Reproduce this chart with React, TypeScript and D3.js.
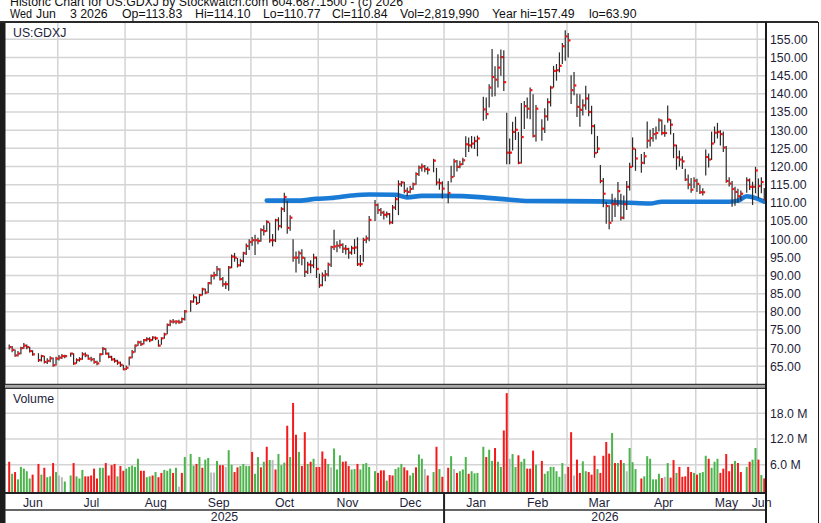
import React from "react";
import * as d3 from "d3";

// calendar: one slot per weekday, holidays stay empty
const firstDay = "2025-06-06";
const lastDay = "2026-06-03";
const holidays = [
  "2025-06-19", "2025-07-04", "2025-09-01", "2025-11-27", "2025-12-25",
  "2026-01-01", "2026-01-19", "2026-02-16", "2026-04-03", "2026-05-25",
];

// daily closes, one per trading day (Jun 2025 .. Jun 2026)
const closes = [
  // Jun
  70.3, 69.5, 68.0, 68.5, 70.0, 70.7, 70.3, 69.2, 68.3, 66.7, 67.8, 66.2, 66.5, 67.2, 65.3, 67.1,
  // Jul
  67.4, 67.8, 67.8, 68.5, 65.8, 66.7, 67.0, 68.3, 68.0, 67.1, 66.9, 66.2, 65.8, 68.3, 69.8, 68.5, 67.6, 66.9, 66.5, 66.0, 65.4, 64.2,
  // Aug
  64.6, 67.4, 68.9, 70.7, 71.6, 71.1, 72.2, 72.5, 72.2, 72.9, 72.7, 70.7, 72.7, 73.8, 76.4, 77.3, 77.3, 77.3, 77.1, 78.0, 80.1,
  // Sep
  82.8, 84.0, 82.4, 84.6, 86.2, 85.3, 87.9, 89.9, 90.1, 91.7, 89.0, 87.6, 87.6, 92.2, 95.2, 94.9, 92.8, 94.0, 96.1, 98.1, 99.2,
  // Oct
  99.7, 99.7, 99.5, 102.5, 102.2, 104.7, 99.7, 99.7, 105.2, 103.6, 108.3, 111.6, 103.1, 105.9, 94.9, 94.9, 96.1, 94.9, 91.0, 93.0, 92.8, 94.9, 91.8,
  // Nov
  87.3, 90.0, 90.3, 93.0, 97.8, 98.0, 98.2, 98.4, 97.4, 97.3, 96.3, 97.5, 97.7, 93.1, 93.1, 99.8, 100.2, 105.3, 109.4,
  // Dec
  108.0, 107.3, 106.7, 106.9, 104.6, 108.7, 111.0, 115.1, 115.6, 113.3, 113.0, 113.8, 115.1, 117.9, 119.7, 120.0, 119.3, 119.1, 121.6, 115.6, 115.4, 113.9,
  // Jan
  112.7, 117.1, 121.4, 119.9, 120.6, 121.7, 126.1, 125.8, 126.3, 127.0, 127.7, 135.7, 134.4, 141.7, 144.6, 143.9, 147.2, 150.1, 143.2, 123.8,
  // Feb
  123.8, 129.5, 130.1, 121.0, 128.1, 136.6, 135.9, 141.0, 128.4, 135.9, 130.4, 133.8, 137.7, 141.7, 146.3, 146.5, 147.7, 153.1, 155.8,
  // Mar
  154.7, 141.0, 142.3, 136.4, 135.6, 136.8, 138.7, 135.0, 131.1, 123.7, 124.9, 116.0, 112.5, 109.1, 104.5, 109.6, 109.7, 113.2, 105.9, 109.6, 114.4, 119.9,
  // Apr
  124.9, 122.2, 121.0, 122.8, 127.1, 127.8, 128.9, 129.2, 132.7, 129.2, 129.2, 132.9, 131.5, 125.8, 122.5, 121.9, 121.4, 116.4, 115.0, 113.6, 116.1,
  // May
  115.2, 112.9, 112.9, 122.6, 121.9, 126.3, 129.3, 129.5, 128.9, 125.2, 116.0, 115.3, 113.8, 113.0, 111.8, 112.5, 116.2, 114.4, 114.4, 118.9,
  // Jun
  114.6, 115.7, 110.84,
];

const highs = [
  71.0, 70.6, 69.6, 69.2, 70.4, 71.4, 71.0, 70.4, 69.4, 68.6, 68.2, 67.9, 67.2, 67.8, 67.4, 67.6,
  68.1, 68.4, 68.2, 68.7, 68.6, 67.2, 67.5, 68.9, 68.8, 68.2, 67.6, 67.3, 66.5, 68.6, 70.3, 70.0, 68.8, 67.9, 67.3, 66.8, 66.3, 65.4,
  65.2, 67.6, 69.5, 71.0, 72.0, 72.0, 72.5, 73.0, 73.0, 73.3, 73.2, 72.3, 73.0, 74.2, 76.8, 77.8, 78.0, 77.7, 77.8, 78.4, 80.5,
  83.2, 84.8, 84.2, 84.9, 86.6, 86.4, 88.2, 90.3, 91.0, 92.6, 92.0, 89.6, 88.4, 92.6, 95.8, 96.2, 94.8, 94.6, 96.5, 98.8, 100.0,
  100.6, 101.2, 100.4, 103.0, 103.8, 105.2, 104.6, 101.4, 105.6, 106.0, 108.8, 112.8, 110.5, 106.6, 100.0, 96.6, 96.8, 97.2, 95.0, 93.8, 94.2, 96.0, 95.2,
  90.5, 90.8, 91.5, 93.6, 98.2, 102.6, 99.4, 99.8, 98.9, 98.4, 97.6, 98.2, 100.0, 100.5, 95.6, 100.4, 101.0, 106.4, 110.8,
  109.8, 108.6, 107.8, 107.6, 107.2, 109.4, 111.6, 116.2, 116.0, 115.8, 114.2, 114.6, 115.6, 118.4, 120.3, 120.8, 120.4, 119.9, 122.1, 119.6, 116.7, 115.9,
  116.0, 120.2, 122.1, 121.8, 121.6, 122.4, 128.3, 128.0, 128.4, 128.2, 128.5, 139.2, 139.0, 142.6, 152.3, 147.6, 150.9, 152.2, 152.0, 134.8,
  127.7, 132.3, 133.7, 129.5, 137.5, 138.0, 139.0, 141.7, 139.9, 136.9, 133.0, 136.0, 138.8, 142.2, 147.7, 148.2, 151.4, 154.0, 157.5,
  156.7, 145.1, 146.0, 140.0, 139.9, 138.5, 142.2, 140.0, 136.7, 131.6, 128.4, 120.4, 116.8, 110.2, 109.3, 112.5, 111.4, 115.7, 112.5, 112.0, 116.0, 121.0,
  128.0, 124.9, 123.4, 124.0, 132.4, 130.1, 130.6, 131.0, 133.3, 132.9, 131.5, 136.8, 133.0, 129.2, 126.0, 124.4, 122.8, 119.4, 117.8, 116.8, 117.0,
  116.6, 115.0, 114.0, 124.7, 123.6, 129.6, 131.0, 132.0, 130.0, 129.6, 125.6, 117.0, 116.0, 114.4, 113.9, 113.4, 117.0, 116.7, 115.8, 119.9,
  116.7, 117.0, 114.1,
];

const lows = [
  69.6, 68.9, 67.6, 67.7, 68.3, 69.8, 69.7, 68.8, 67.9, 66.2, 66.3, 65.8, 65.6, 66.1, 64.9, 65.2,
  66.6, 67.0, 67.2, 67.6, 65.4, 65.7, 66.3, 66.8, 67.5, 66.8, 66.3, 65.7, 65.3, 66.2, 68.1, 68.2, 67.2, 66.5, 66.0, 65.4, 64.8, 63.9,
  64.0, 65.2, 67.2, 68.8, 70.6, 70.6, 71.0, 71.8, 71.6, 72.0, 72.2, 70.4, 70.9, 72.6, 73.8, 76.0, 76.8, 76.6, 76.7, 76.9, 77.6,
  80.0, 82.5, 81.9, 82.4, 84.5, 84.8, 85.2, 87.5, 88.9, 89.8, 88.6, 86.9, 86.3, 85.8, 92.0, 93.8, 92.2, 92.5, 93.6, 95.6, 97.0,
  98.2, 95.6, 98.6, 99.3, 101.0, 102.0, 99.0, 98.0, 99.2, 102.4, 103.0, 107.5, 101.5, 102.3, 93.8, 90.8, 93.2, 92.8, 89.6, 90.4, 90.6, 92.0, 89.3,
  86.6, 87.0, 88.4, 89.7, 92.3, 97.0, 96.4, 97.4, 96.2, 95.8, 94.6, 95.7, 95.9, 92.6, 92.4, 93.8, 98.9, 99.4, 105.0,
  106.9, 106.4, 105.4, 105.9, 104.0, 104.2, 108.0, 106.6, 114.4, 112.6, 111.8, 112.6, 113.6, 115.0, 117.4, 118.6, 118.4, 117.8, 118.4, 114.8, 113.6, 111.2,
  109.9, 115.6, 117.1, 118.6, 119.5, 120.4, 122.6, 124.0, 125.0, 124.8, 122.8, 132.6, 133.0, 136.2, 139.2, 139.3, 141.7, 145.0, 140.8, 120.6,
  120.6, 124.4, 127.3, 120.6, 120.8, 130.3, 133.2, 133.0, 128.0, 126.9, 127.1, 129.2, 132.6, 136.5, 141.7, 143.6, 145.9, 148.2, 149.1,
  150.0, 137.2, 139.6, 133.6, 130.9, 134.0, 135.6, 133.8, 128.9, 122.4, 123.7, 115.4, 108.8, 104.2, 102.7, 104.8, 106.1, 109.0, 105.1, 105.5, 108.0, 113.4,
  119.8, 118.8, 118.3, 120.6, 125.0, 125.5, 126.8, 127.4, 129.6, 128.6, 128.2, 132.0, 128.8, 122.3, 119.1, 120.0, 119.3, 116.0, 113.7, 112.8, 114.0,
  113.0, 112.4, 112.0, 117.5, 119.7, 121.8, 126.4, 127.7, 125.8, 124.0, 115.5, 114.5, 108.9, 109.2, 110.0, 110.6, 112.8, 113.5, 109.4, 112.6,
  111.2, 112.6, 110.77,
];

// volume in millions
const volumes = [
  6.7, 3.9, 4.3, 2.6, 5.5, 5.1, 4.5, 2.8, 3.7, 6.2, 3.7, 5.3, 3.1, 3.3, 6.4, 4.3,
  3.5, 3.1, 2.1, 3.5, 6.4, 3.3, 2.8, 4.8, 3.3, 3.3, 3.5, 5.1, 2.8, 5.3, 5.3, 6.4, 3.5, 5.9, 6.2, 3.3, 5.7, 4.6,
  5.1, 5.5, 5.8, 5.5, 7.4, 4.6, 4.6, 3.1, 3.3, 3.5, 4.3, 3.1, 4.1, 4.8, 4.6, 5.1, 4.1, 5.3, 0.9, 4.1, 7.8,
  8.5, 5.8, 6.2, 7.8, 5.3, 7.2, 7.6, 4.2, 4.2, 6.9, 5.9, 5.9, 5.5, 9.4, 6.0, 4.3, 5.4, 5.7, 6.2, 5.7, 5.7,
  9.0, 3.9, 7.8, 5.4, 6.7, 10.2, 7.1, 7.1, 4.9, 8.5, 5.9, 6.5, 15.1, 7.8, 20.4, 13.0, 9.0, 5.7, 13.6, 6.2, 6.7, 7.4, 5.5,
  5.5, 9.1, 7.4, 6.2, 5.4, 9.8, 4.9, 8.2, 6.7, 6.8, 5.7, 4.9, 5.0, 6.2, 4.9, 6.2, 6.4, 5.5, 4.5,
  4.1, 4.7, 4.7, 2.3, 3.6, 3.5, 5.0, 5.4, 6.2, 5.4, 4.7, 3.5, 4.1, 5.4, 8.4, 7.4, 5.0, 3.5, 4.3, 10.2, 5.0, 3.2,
  5.3, 8.0, 5.0, 4.1, 4.5, 4.9, 7.8, 3.9, 4.5, 4.0, 4.1, 10.2, 7.8, 9.5, 6.9, 9.9, 6.7, 5.5, 14.0, 22.7,
  7.4, 8.5, 5.5, 8.2, 6.7, 7.4, 5.1, 5.1, 9.3, 6.0, 6.9, 3.9, 4.5, 5.5, 5.5, 4.5, 3.2, 6.4, 3.9,
  5.5, 13.6, 3.5, 7.2, 4.1, 6.8, 4.5, 4.3, 3.7, 8.1, 5.0, 4.1, 8.1, 11.3, 8.6, 13.4, 6.4, 6.4, 7.1, 6.4, 4.5, 9.9,
  6.6, 5.0, 2.8, 3.3, 8.0, 7.4, 2.6, 2.6, 3.9, 2.9, 3.2, 6.4, 3.0, 7.1, 4.1, 5.5, 3.2, 3.3, 5.5, 4.3, 4.1,
  3.7, 4.1, 4.3, 8.1, 7.4, 5.3, 6.7, 7.4, 4.1, 5.1, 8.5, 4.5, 6.2, 6.9, 6.4, 4.3, 5.5, 6.7, 7.2, 9.9,
  7.2, 3.6, 2.82,
];

// g = up, r = down, n = unchanged
const volColors = [
  "rgrgggggrrgrggrg",
  "nnggrgggrrrrrggrrrrgrr",
  "gggggrrggrgrrgggrgnrg",
  "ggrgrggnngrrnggrrgggg",
  "rggrgrgnrgggrgrrgrrgrgr",
  "rrrgngggrrrggrggggg",
  "rrrgrrgggrrggrggnrgrgr",
  "rgnrgggrggggrggrggrr",
  "nggrggrrrgrgggggggn",
  "rrnrrggrrrgrrrrgrgrgng",
  "ggrggggggrngrrgrrrrrg",
  "rgggrgggrrrrrgrrgrgg",
  "rgr",
].join("");

// blue average line
const maDates = [
  "2025-10-08", "2025-10-23", "2025-10-31", "2025-11-07", "2025-11-18", "2025-11-26",
  "2025-12-09", "2025-12-15", "2025-12-22", "2025-12-31", "2026-01-20", "2026-01-29",
  "2026-02-11", "2026-03-16", "2026-03-31", "2026-04-09", "2026-04-15", "2026-05-18",
  "2026-05-21", "2026-05-26", "2026-05-29", "2026-06-03",
];
const maValues = [
  110.6, 110.6, 111.1, 111.3, 112.0, 112.3, 112.2, 111.5, 111.9, 111.9, 111.5, 111.0,
  110.5, 110.4, 110.0, 109.8, 110.3, 110.3, 110.6, 111.8, 111.3, 110.3,
];

const priceTicks = [65, 70, 75, 80, 85, 90, 95, 100, 105, 110, 115, 120, 125, 130, 135, 140, 145, 150, 155];
const volTicks = [6, 12, 18];

const FONT = "'Liberation Sans', Arial, Helvetica, sans-serif";
const TXT = "#1e1e3a";

export default function App() {
  const parse = d3.utcParse("%Y-%m-%d");
  const fmt = d3.utcFormat("%Y-%m-%d");
  const monthFmt = d3.utcFormat("%b");

  const days = d3
    .utcDay.range(parse(firstDay) as Date, d3.utcDay.offset(parse(lastDay) as Date, 1))
    .filter((d) => d.getUTCDay() !== 0 && d.getUTCDay() !== 6);
  const slotOf = new Map(days.map((d, i) => [fmt(d), i]));
  const hol = new Set(holidays);
  const tradeSlots = days.map((d, i) => i).filter((i) => !hol.has(fmt(days[i])));

  const x = d3.scaleLinear().domain([0, days.length]).range([8, 766]);
  const y = d3.scaleLinear().domain([65, 155]).range([366.3, 39.3]);
  const yv = d3.scaleLinear().domain([0, 18]).range([490.5, 413.3]);

  const monthStarts = days
    .map((d, i) => i)
    .filter((i) => i === 0 || days[i].getUTCMonth() !== days[i - 1].getUTCMonth());
  const yearStart = days.findIndex((d) => d.getUTCFullYear() === 2026);

  const bars = closes.map((c, k) => ({
    s: tradeSlots[k],
    c,
    h: highs[k],
    l: lows[k],
    v: volumes[k],
    col: volColors[k],
  }));

  const maLine = d3
    .line<number>()
    .x((d, i) => x(slotOf.get(maDates[i]) as number) + 1.2)
    .y((d) => y(d))
    .curve(d3.curveMonotoneX);

  const volFill = (c: string) => (c === "g" ? "#4cb44c" : c === "r" ? "#f21a1a" : "#b9b9b9");

  return (
    <svg
      width={821}
      height={523}
      style={{ position: "absolute", left: 0, top: 0, background: "#fff" }}
      fontFamily={FONT}
    >
      <rect x={0} y={0} width={821} height={523} fill="#fff" />

      {/* header */}
      <text x={10} y={5.5} fontSize={12.3} fill="#111">
        Historic Chart for US:GDXJ by Stockwatch.com 604.687.1500 - (c) 2026
      </text>
      <text y={18.3} fontSize={12.3} fill="#111">
        <tspan x={10} textLength={22} lengthAdjust="spacingAndGlyphs">Wed</tspan>
        <tspan x={36}>Jun</tspan>
        <tspan x={70}>3 2026</tspan>
        <tspan x={122}>Op=113.83</tspan>
        <tspan x={195}>Hi=114.10</tspan>
        <tspan x={263}>Lo=110.77</tspan>
        <tspan x={332}>Cl=110.84</tspan>
        <tspan x={400}>Vol=2,819,990</tspan>
        <tspan x={492}>Year hi=157.49</tspan>
        <tspan x={589}>lo=63.90</tspan>
      </text>

      {/* grid */}
      {priceTicks.map((t) => (
        <line key={"pg" + t} x1={5} x2={766} y1={y(t)} y2={y(t)} stroke="#d4d4d4" strokeWidth={1.5} />
      ))}
      {volTicks.map((t) => (
        <line key={"vg" + t} x1={5} x2={766} y1={yv(t)} y2={yv(t)} stroke="#d4d4d4" strokeWidth={1.5} />
      ))}
      {monthStarts.slice(1).map((s) => (
        <g key={"mg" + s}>
          <line x1={x(s)} x2={x(s)} y1={23} y2={384} stroke="#d4d4d4" strokeWidth={1.5} />
          <line x1={x(s)} x2={x(s)} y1={389} y2={493} stroke="#d4d4d4" strokeWidth={1.5} />
        </g>
      ))}

      {/* volume */}
      {bars.map((b) => (
        <rect
          key={"v" + b.s}
          x={x(b.s) + 0.2}
          y={yv(b.v)}
          width={2}
          height={492 - yv(b.v)}
          fill={volFill(b.col)}
        />
      ))}

      {/* average line */}
      <path
        d={maLine(maValues) as string}
        fill="none"
        stroke="#1a7bd6"
        strokeWidth={4.6}
        strokeLinecap="round"
        strokeLinejoin="round"
      />

      {/* price bars */}
      {bars.map((b) => (
        <g key={"p" + b.s}>
          <line
            x1={x(b.s) + 1.2}
            x2={x(b.s) + 1.2}
            y1={y(Math.max(b.h, b.c))}
            y2={y(Math.min(b.l, b.c))}
            stroke="#2a2a2a"
            strokeWidth={1.2}
          />
          <rect x={x(b.s) + 1.3} y={y(b.c) - 1.1} width={2.2} height={2.2} fill="#ff1010" />
        </g>
      ))}

      {/* frame */}
      <rect x={0} y={22} width={5.5} height={501} fill="#1c1c1c" />
      <line x1={0} x2={818} y1={22} y2={22} stroke="#2a2a2a" strokeWidth={2} />
      <rect x={5} y={384} width={761} height={4.5} fill="#a8a8a8" />
      <line x1={5} x2={766} y1={384.3} y2={384.3} stroke="#333" strokeWidth={1.2} />
      <line x1={5} x2={766} y1={388.3} y2={388.3} stroke="#333" strokeWidth={1.2} />
      <line x1={5} x2={766} y1={493} y2={493} stroke="#222" strokeWidth={2} />
      <line x1={5} x2={766} y1={510} y2={510} stroke="#333" strokeWidth={1.5} />
      <line x1={x(yearStart)} x2={x(yearStart)} y1={493} y2={523} stroke="#222" strokeWidth={2} />
      <line x1={766} x2={766} y1={22} y2={523} stroke="#1a1a1a" strokeWidth={2} />
      <line x1={818.5} x2={818.5} y1={22} y2={523} stroke="#1a1a1a" strokeWidth={1} />

      {/* labels */}
      <text x={13} y={37} fontSize={12.3} fill={TXT}>US:GDXJ</text>
      <text x={13} y={403} fontSize={12.3} fill={TXT}>Volume</text>

      {priceTicks.map((t) => (
        <text key={"pt" + t} x={770} y={y(t) + 4.4} fontSize={12.3} fill={TXT}>
          {t.toFixed(2)}
        </text>
      ))}
      {volTicks.map((t) => (
        <text key={"vt" + t} x={770} y={yv(t) + 4.4} fontSize={12.3} fill={TXT}>
          {t.toFixed(1) + " M"}
        </text>
      ))}

      {monthStarts.map((s, i) => {
        const e = i + 1 < monthStarts.length ? monthStarts[i + 1] : days.length;
        return (
          <text
            key={"ml" + s}
            x={(x(s) + x(e)) / 2}
            y={507}
            fontSize={12.3}
            fill={TXT}
            textAnchor="middle"
          >
            {monthFmt(days[s])}
          </text>
        );
      })}
      <text x={(5 + x(yearStart)) / 2} y={521} fontSize={12.3} fill={TXT} textAnchor="middle">2025</text>
      <text x={(x(yearStart) + 766) / 2} y={521} fontSize={12.3} fill={TXT} textAnchor="middle">2026</text>
    </svg>
  );
}
